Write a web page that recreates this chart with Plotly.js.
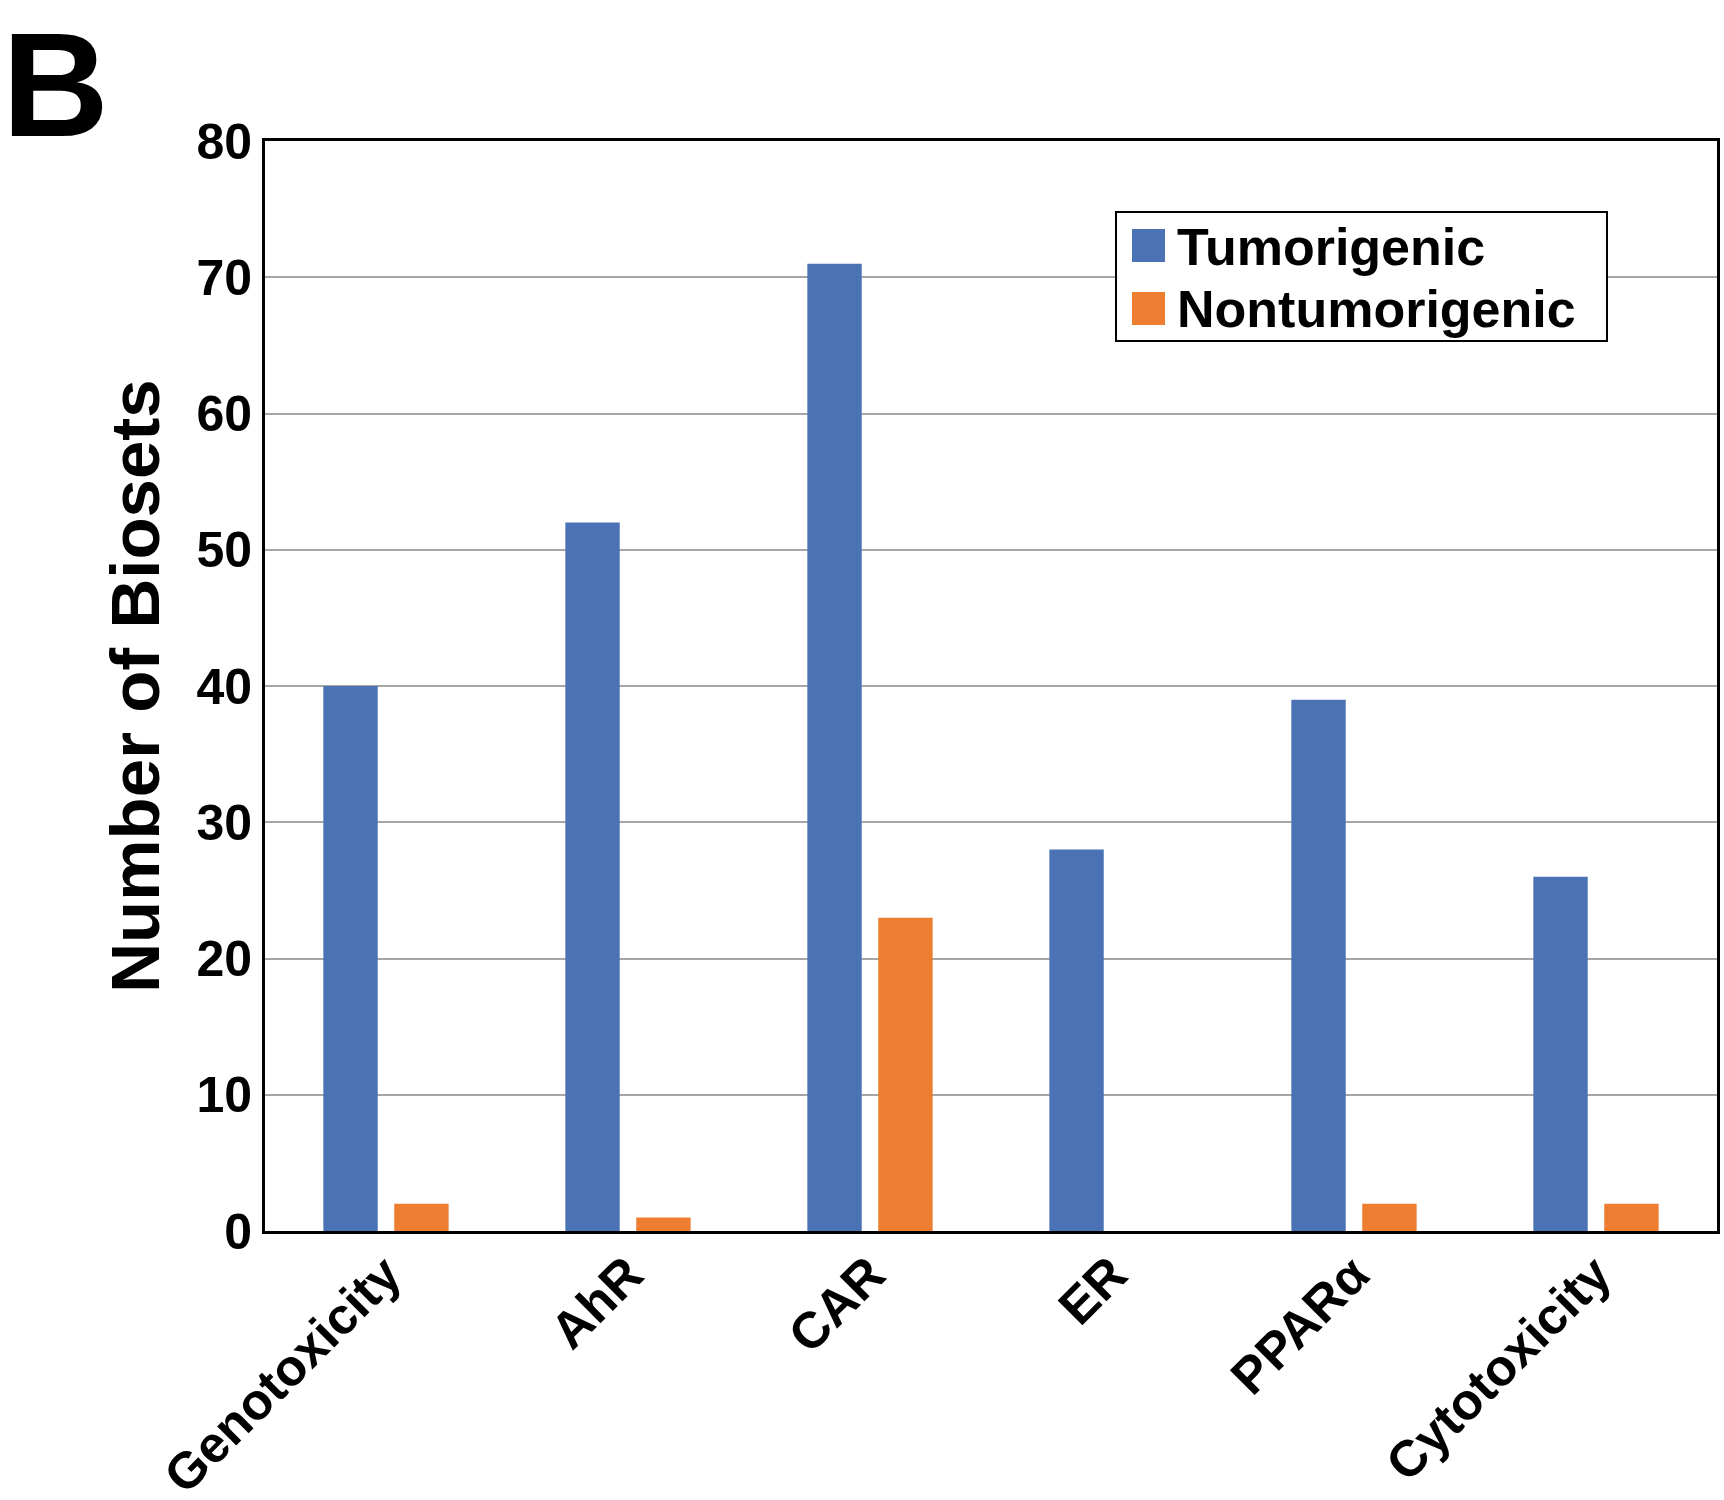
<!DOCTYPE html>
<html>
<head>
<meta charset="utf-8">
<script src="https://cdn.plot.ly/plotly-3.0.1.min.js"></script>
<style>
  body { margin: 0; background: #fff; }
  #chart { width: 1724px; height: 1500px; }
</style>
</head>
<body>
<div id="chart"></div>
<script>
// categories and counts
const categories = ['Genotoxicity', 'AhR', 'CAR', 'ER', 'PPARα', 'Cytotoxicity'];
const tumorigenic = [40, 52, 71, 28, 39, 26];
const nontumorigenic = [2, 1, 23, 0, 2, 2];
const seriesNames = ['Tumorigenic', 'Nontumorigenic'];
const seriesColors = ['#4A72B5', '#ED7D31'];
const yTicks = [0, 10, 20, 30, 40, 50, 60, 70, 80];

const W = 1724, H = 1500;
const margin = { l: 265, r: 7, t: 141, b: 269 };
const plotW = W - margin.l - margin.r;
const plotH = H - margin.t - margin.b;

// pixel position -> paper coords (for the hand-made legend and panel letter)
const px = x => (x - margin.l) / plotW;
const py = y => (H - margin.b - y) / plotH;

const FONT = 'Liberation Sans, Arial, Helvetica, sans-serif';

const traces = [
    {
        type: 'bar', x: categories, y: tumorigenic, name: seriesNames[0],
        marker: { color: seriesColors[0], line: { width: 0 } },
        showlegend: false, hoverinfo: 'x+y'
    },
    {
        type: 'bar', x: categories, y: nontumorigenic, name: seriesNames[1],
        marker: { color: seriesColors[1], line: { width: 0 } },
        showlegend: false, hoverinfo: 'x+y'
    }
];

// legend box drawn with shapes so the swatches can be large
const shapes = [
    { type: 'rect', xref: 'paper', yref: 'paper', layer: 'above',
      x0: px(1116), x1: px(1607), y0: py(341), y1: py(212),
      fillcolor: '#fff', line: { color: '#000', width: 2 } },
    { type: 'rect', xref: 'paper', yref: 'paper', layer: 'above',
      x0: px(1132), x1: px(1165), y0: py(262), y1: py(229),
      fillcolor: seriesColors[0], line: { width: 0 } },
    { type: 'rect', xref: 'paper', yref: 'paper', layer: 'above',
      x0: px(1132), x1: px(1165), y0: py(325), y1: py(292),
      fillcolor: seriesColors[1], line: { width: 0 } }
];

const annotations = [
    { text: seriesNames[0], xref: 'paper', yref: 'paper', x: px(1175), y: py(247),
      xanchor: 'left', yanchor: 'middle', showarrow: false,
      font: { family: FONT, size: 52, weight: 'bold', color: '#000' } },
    { text: seriesNames[1], xref: 'paper', yref: 'paper', x: px(1175), y: py(309),
      xanchor: 'left', yanchor: 'middle', showarrow: false,
      font: { family: FONT, size: 52, weight: 'bold', color: '#000' } },
    // panel letter
    { text: 'B', xref: 'paper', yref: 'paper', x: px(0), y: py(0),
      xanchor: 'left', yanchor: 'top', showarrow: false,
      font: { family: FONT, size: 148, weight: 'bold', color: '#000' } }
];

const layout = {
    width: W,
    height: H,
    margin: margin,
    paper_bgcolor: '#fff',
    plot_bgcolor: '#fff',
    barmode: 'group',
    bargap: 0.414,
    bargroupgap: 0.233,
    showlegend: false,
    font: { family: FONT, color: '#000' },
    xaxis: {
        type: 'category',
        tickangle: -45,
        ticklabelstandoff: -10,
        tickfont: { family: FONT, size: 51, weight: 'bold', color: '#000' },
        showline: true, linecolor: '#000', linewidth: 3, mirror: true,
        showgrid: false, ticks: '', automargin: false
    },
    yaxis: {
        range: [0, 80],
        tickvals: yTicks,
        ticktext: yTicks.map(String),
        tickfont: { family: FONT, size: 50, weight: 'bold', color: '#000' },
        title: { text: 'Number of Biosets', standoff: 15,
                 font: { family: FONT, size: 69, weight: 'bold', color: '#000' } },
        showline: true, linecolor: '#000', linewidth: 3, mirror: true,
        showgrid: true, gridcolor: '#A6A6A6', gridwidth: 2,
        zeroline: false, ticks: '', automargin: false
    },
    shapes: shapes,
    annotations: annotations
};

Plotly.newPlot('chart', traces, layout, { displayModeBar: false, staticPlot: true });
</script>
</body>
</html>
